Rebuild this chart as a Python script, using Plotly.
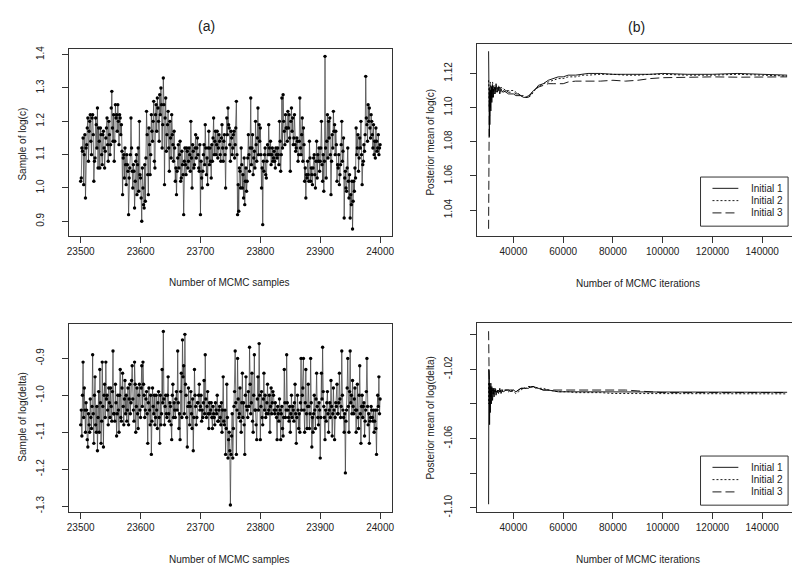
import plotly.graph_objects as go

# ---------------- data ----------------
# (a) trace of MCMC samples 23500..24000
sample_start, sample_end = 23500, 24000

# values at even offsets (23500, 23502, ..., 24000)
logc_even = [
    1.02, 1.12, 1.15, 1.10, 0.97, 1.13, 1.21, 1.17, 1.22, 1.10,
    1.22, 1.02, 1.09, 1.19, 1.24, 1.18, 1.06, 1.16, 1.07, 1.17,
    1.06, 1.15, 1.21, 1.08, 1.16, 1.13, 1.29, 1.14, 1.08, 1.25,
    1.22, 1.25, 1.13, 1.21, 1.19, 0.98, 1.10, 1.12, 1.01, 1.07,
    0.92, 1.06, 1.21, 1.05, 1.07, 0.94, 1.08, 0.98, 1.12, 1.20,
    1.03, 0.90, 1.00, 0.94, 0.96, 1.23, 1.04, 1.18, 1.04, 1.22,
    1.14, 1.26, 1.06, 1.25, 1.27, 1.20, 1.28, 1.30, 1.12, 1.33,
    1.01, 1.27, 1.16, 1.23, 1.05, 1.15, 1.22, 1.13, 1.17, 1.02,
    0.98, 1.09, 1.06, 1.14, 1.03, 1.07, 0.92, 1.12, 1.04, 1.11,
    1.08, 1.10, 1.20, 1.00, 1.11, 1.07, 1.16, 1.12, 1.10, 1.05,
    0.92, 1.03, 1.05, 1.13, 1.19, 1.04, 1.01, 1.17, 1.12, 1.03,
    1.08, 1.21, 1.14, 1.10, 1.17, 1.12, 1.14, 1.08, 1.19, 1.08,
    1.16, 1.00, 1.21, 1.24, 1.18, 1.08, 1.15, 1.12, 1.17, 1.13,
    1.26, 0.92, 0.93, 1.05, 1.12, 1.00, 0.97, 0.95, 1.06, 1.02,
    1.16, 1.05, 1.27, 1.12, 1.04, 1.11, 1.20, 1.08, 1.24, 1.19,
    1.18, 1.00, 0.89, 1.05, 1.12, 1.03, 1.13, 1.19, 1.10, 1.07,
    1.12, 1.09, 1.08, 1.12, 1.09, 1.10, 1.20, 1.05, 1.27, 1.28,
    1.17, 1.22, 1.18, 1.23, 1.22, 1.05, 1.24, 1.21, 1.15, 1.13,
    1.12, 1.14, 1.10, 1.27, 1.10, 1.21, 1.18, 1.02, 0.97, 1.03,
    1.04, 1.14, 1.02, 1.04, 1.06, 1.10, 1.00, 1.14, 1.10, 1.12,
    1.08, 1.20, 1.02, 0.99, 1.395, 1.03, 1.22, 1.20, 1.21, 0.98,
    1.16, 1.23, 1.19, 1.17, 1.02, 1.06, 1.01, 1.07, 1.20, 1.11,
    0.91, 1.05, 0.99, 1.12, 0.97, 0.91, 0.95, 0.877, 1.02, 1.06,
    1.18, 1.12, 1.05, 1.15, 1.20, 1.01, 1.08, 1.11, 1.335, 1.19,
    1.25, 1.24, 1.15, 1.20, 1.12, 1.10, 1.09, 1.14, 1.12, 1.10, 1.13,
]
# values at odd offsets (23501, 23503, ..., 23999)
logc_odd = [
    1.03, 1.11, 1.01, 1.16, 1.12, 1.18, 1.08, 1.20, 1.14, 1.21,
    1.16, 1.08, 1.21, 1.12, 1.06, 1.14, 1.18, 1.10, 1.16, 1.12,
    1.11, 1.18, 1.13, 1.20, 1.10, 1.24, 1.18, 1.22, 1.14, 1.21,
    1.17, 1.20, 1.22, 1.16, 1.11, 1.09, 1.03, 1.07, 1.10, 1.05,
    1.03, 1.10, 1.12, 1.00, 1.05, 1.02, 1.10, 1.07, 0.99, 1.04,
    0.97, 1.06, 0.95, 1.07, 1.09, 1.16, 0.98, 1.13, 1.10, 1.17,
    1.20, 1.08, 1.22, 1.17, 1.24, 1.14, 1.22, 1.25, 1.19, 1.25,
    1.21, 1.11, 1.19, 1.12, 1.20, 1.09, 1.16, 1.08, 1.12, 1.06,
    1.05, 1.13, 1.10, 1.02, 1.11, 1.04, 1.08, 1.07, 1.12, 1.06,
    1.12, 1.05, 1.09, 1.13, 1.06, 1.12, 1.09, 1.15, 1.06, 1.13,
    1.08, 1.00, 1.10, 1.07, 1.12, 1.09, 1.12, 1.07, 1.08, 1.13,
    1.15, 1.10, 1.17, 1.13, 1.09, 1.16, 1.10, 1.15, 1.12, 1.14,
    1.10, 1.12, 1.16, 1.19, 1.13, 1.17, 1.10, 1.16, 1.09, 1.18,
    1.10, 1.01, 1.06, 1.00, 1.07, 1.04, 1.09, 1.02, 0.99, 1.09,
    1.10, 1.12, 1.07, 1.16, 1.09, 1.06, 1.13, 1.15, 1.10, 1.14,
    1.10, 1.06, 1.08, 1.10, 1.04, 1.08, 1.10, 1.12, 1.14, 1.10,
    1.08, 1.11, 1.06, 1.10, 1.12, 1.07, 1.14, 1.10, 1.12, 1.20,
    1.13, 1.18, 1.14, 1.18, 1.15, 1.20, 1.17, 1.13, 1.22, 1.11,
    1.15, 1.08, 1.14, 1.12, 1.16, 1.08, 1.13, 1.06, 1.04, 1.08,
    1.02, 1.09, 1.06, 1.01, 1.09, 1.04, 1.08, 1.03, 1.08, 1.05,
    1.12, 1.07, 1.10, 1.08, 1.12, 1.14, 1.09, 1.15, 1.10, 1.08,
    1.12, 1.17, 1.10, 1.13, 1.07, 1.10, 1.04, 1.13, 1.08, 1.15,
    1.03, 1.00, 1.06, 1.02, 1.04, 0.98, 1.02, 0.96, 0.99, 1.03,
    1.10, 1.16, 1.09, 1.12, 1.10, 1.07, 1.13, 1.16, 1.21, 1.14,
    1.20, 1.18, 1.22, 1.16, 1.19, 1.14, 1.18, 1.11, 1.16, 1.12,
]

logdelta_even = [
    -1.08, -1.11, -0.91, -0.98, -1.10, -1.04, -1.14, -1.08, -1.01, -1.09,
    -0.89, -1.13, -0.95, -1.10, -1.15, -0.99, -0.93, -1.13, -0.91, -1.14,
    -0.97, -0.91, -1.00, -1.08, -1.02, -0.98, -1.07, -0.88, -1.05, -0.97,
    -1.11, -1.00, -1.10, -0.93, -1.07, -0.94, -1.08, -0.96, -1.00, -1.04,
    -1.08, -0.97, -1.02, -0.92, -1.04, -0.91, -1.10, -0.98, -1.09, -0.97,
    -1.06, -0.92, -0.91, -1.00, -1.04, -0.99, -1.13, -0.98, -1.08, -1.16,
    -0.98, -1.05, -1.08, -1.00, -1.09, -0.99, -1.13, -1.08, -0.93, -0.827,
    -1.08, -1.00, -1.06, -0.95, -1.07, -1.03, -1.12, -0.97, -1.02, -1.06,
    -0.99, -0.88, -1.09, -1.12, -0.94, -0.85, -0.92, -0.835, -1.00, -1.14,
    -0.98, -1.08, -0.99, -1.09, -1.15, -0.93, -1.03, -1.06, -1.02, -0.97,
    -1.03, -1.07, -1.06, -0.96, -0.89, -1.06, -0.99, -1.09, -1.05, -1.02,
    -1.09, -1.05, -1.08, -1.04, -1.00, -1.07, -1.03, -1.08, -1.10, -0.95,
    -1.08, -1.16, -0.97, -1.17, -1.10, -1.297, -1.11, -1.17, -1.03, -0.88,
    -1.16, -0.90, -1.06, -0.98, -1.10, -0.94, -1.02, -1.16, -0.95, -1.04,
    -0.99, -0.87, -1.05, -0.94, -1.10, -0.89, -1.04, -1.12, -0.95, -0.86,
    -1.12, -0.99, -1.08, -0.94, -1.00, -1.05, -0.97, -1.04, -1.10, -0.98,
    -1.02, -1.00, -1.05, -1.04, -1.12, -1.05, -1.01, -1.12, -1.03, -1.11,
    -0.93, -1.06, -0.89, -1.04, -1.07, -1.10, -1.00, -1.03, -1.07, -0.97,
    -1.13, -1.00, -1.09, -1.10, -0.90, -1.00, -0.90, -1.10, -0.93, -1.09,
    -0.97, -1.09, -0.90, -1.14, -1.10, -1.00, -1.09, -0.94, -1.06, -1.02,
    -1.17, -0.94, -0.87, -1.03, -1.12, -1.07, -0.99, -1.10, -1.02, -0.96,
    -1.11, -0.98, -1.12, -1.02, -0.97, -1.05, -0.94, -1.06, -0.88, -1.04,
    -1.10, -1.21, -1.04, -0.90, -1.10, -0.88, -1.00, -0.96, -1.05, -0.98,
    -1.10, -0.97, -1.09, -0.92, -1.13, -1.00, -1.03, -1.11, -1.04, -0.90,
    -1.08, -1.13, -1.06, -1.04, -1.07, -1.10, -1.04, -1.16, -1.00, -0.95, -1.01,
]
logdelta_odd = [
    -1.04, -1.00, -1.06, -1.04, -1.02, -1.12, -1.05, -1.10, -1.06, -1.03,
    -1.05, -1.00, -1.08, -1.03, -1.06, -1.10, -1.02, -1.07, -1.03, -1.00,
    -1.06, -1.01, -1.04, -0.98, -1.06, -1.03, -0.99, -1.05, -1.07, -1.02,
    -1.05, -1.04, -1.00, -1.06, -0.98, -1.03, -1.01, -1.05, -1.07, -0.98,
    -1.01, -1.05, -0.96, -1.01, -1.07, -0.97, -1.03, -1.05, -1.00, -1.04,
    -0.98, -1.03, -0.97, -1.06, -1.01, -1.05, -1.02, -1.04, -1.00, -1.07,
    -1.03, -1.00, -1.06, -1.04, -1.02, -1.06, -1.00, -1.05, -1.02, -1.01,
    -1.03, -1.05, -1.00, -1.05, -1.02, -1.08, -1.00, -1.06, -1.04, -1.01,
    -1.04, -1.02, -1.05, -0.99, -1.06, -0.95, -1.05, -0.97, -1.06, -1.03,
    -1.02, -1.03, -1.05, -1.01, -1.06, -1.00, -1.08, -1.02, -1.00, -1.04,
    -1.00, -1.04, -1.02, -1.05, -1.01, -1.03, -1.05, -1.02, -1.04, -1.06,
    -1.03, -1.06, -1.02, -1.05, -1.07, -1.04, -1.06, -1.02, -1.04, -1.07,
    -1.04, -1.09, -1.06, -1.12, -1.15, -1.16, -1.05, -1.09, -0.99, -1.02,
    -1.04, -1.01, -1.05, -1.07, -1.02, -1.06, -1.08, -1.00, -1.03, -1.06,
    -1.03, -0.97, -1.02, -1.07, -1.00, -1.04, -1.08, -1.01, -1.04, -1.00,
    -1.03, -1.06, -1.01, -1.04, -1.06, -1.02, -1.05, -1.00, -1.03, -1.05,
    -0.99, -1.04, -1.02, -1.06, -1.03, -1.07, -1.04, -1.05, -1.09, -1.06,
    -1.02, -1.04, -1.02, -1.06, -1.03, -1.05, -1.06, -1.04, -1.02, -1.05,
    -1.06, -1.04, -1.05, -1.02, -1.04, -0.98, -1.04, -1.02, -1.05, -1.03,
    -1.03, -1.05, -1.02, -1.06, -1.05, -1.04, -1.01, -1.03, -1.08, -1.04,
    -1.06, -1.01, -0.99, -1.06, -1.04, -1.02, -1.05, -1.04, -1.06, -1.03,
    -1.05, -1.04, -1.06, -1.03, -1.05, -1.02, -1.01, -1.03, -1.00, -1.06,
    -1.05, -1.07, -0.98, -1.03, -0.99, -1.02, -1.05, -1.03, -1.01, -1.04,
    -1.04, -1.06, -1.00, -1.05, -1.03, -1.06, -1.02, -1.07, -0.99, -1.03,
    -1.05, -1.07, -1.03, -1.06, -1.04, -1.07, -1.09, -1.04, -1.03, -1.05,
]

# (b) running posterior means for three initial values
iterations = [
    30000, 30100, 30200, 30300, 30400, 30500, 30700, 30900, 31100, 31300,
    31600, 31900, 32200, 32600, 33000, 33500, 34000, 34500, 35000, 35500,
    36000, 37000, 38000, 39000, 40000, 41000, 42000, 43000, 44000, 45000,
    46000, 47000, 48000, 49000, 50000, 52000, 54000, 56000, 58000, 60000,
    62000, 65000, 68000, 70000, 75000, 80000, 85000, 90000, 95000, 100000,
    110000, 120000, 130000, 140000, 150000,
]

mean_logc_init1 = [
    1.133, 1.095, 1.112, 1.083, 1.105, 1.090, 1.110, 1.098, 1.112, 1.103,
    1.113, 1.106, 1.112, 1.108, 1.114, 1.109, 1.112, 1.108, 1.111, 1.109,
    1.110, 1.109, 1.108, 1.108, 1.108, 1.107, 1.107, 1.107, 1.106, 1.106,
    1.107, 1.108, 1.110, 1.111, 1.113, 1.114, 1.116, 1.117, 1.118, 1.118,
    1.119, 1.119, 1.1195, 1.120, 1.120, 1.1195, 1.1195, 1.1195, 1.1195, 1.120,
    1.1195, 1.1195, 1.120, 1.1195, 1.119,
]
mean_logc_init2 = [
    1.116, 1.105, 1.114, 1.100, 1.112, 1.104, 1.115, 1.106, 1.113, 1.108,
    1.115, 1.110, 1.113, 1.110, 1.112, 1.110, 1.113, 1.110, 1.112, 1.111,
    1.111, 1.110, 1.110, 1.110, 1.110, 1.109, 1.108, 1.107, 1.107, 1.106,
    1.106, 1.107, 1.109, 1.111, 1.112, 1.114, 1.115, 1.116, 1.117, 1.117,
    1.118, 1.118, 1.119, 1.119, 1.1195, 1.1195, 1.119, 1.119, 1.1195, 1.1195,
    1.119, 1.119, 1.1195, 1.119, 1.1185,
]
mean_logc_init3 = [
    1.029, 1.098, 1.088, 1.108, 1.095, 1.110, 1.100, 1.111, 1.104, 1.112,
    1.106, 1.111, 1.108, 1.112, 1.109, 1.112, 1.110, 1.112, 1.110, 1.110,
    1.109, 1.110, 1.109, 1.109, 1.109, 1.108, 1.108, 1.107, 1.106, 1.106,
    1.106, 1.108, 1.110, 1.111, 1.112, 1.113, 1.114, 1.114, 1.114, 1.114,
    1.115, 1.1155, 1.1155, 1.1155, 1.1155, 1.116, 1.1155, 1.116, 1.117, 1.1175,
    1.1178, 1.118, 1.1178, 1.1178, 1.118,
]

mean_logdelta_init1 = [
    -1.098, -1.020, -1.045, -1.025, -1.052, -1.030, -1.045, -1.028, -1.040, -1.030,
    -1.038, -1.031, -1.036, -1.031, -1.035, -1.032, -1.034, -1.031, -1.034, -1.032,
    -1.033, -1.032, -1.032, -1.032, -1.032, -1.033, -1.032, -1.031, -1.031, -1.031,
    -1.031, -1.030, -1.030, -1.0305, -1.031, -1.032, -1.032, -1.0325, -1.033, -1.033,
    -1.033, -1.033, -1.0333, -1.0333, -1.0333, -1.0333, -1.0333, -1.0333, -1.0333, -1.0333,
    -1.0333, -1.0333, -1.0333, -1.0333, -1.0333,
]
mean_logdelta_init2 = [
    -1.028, -1.040, -1.030, -1.036, -1.031, -1.035, -1.033, -1.036, -1.031, -1.034,
    -1.032, -1.035, -1.031, -1.033, -1.032, -1.034, -1.032, -1.033, -1.032, -1.033,
    -1.032, -1.032, -1.033, -1.032, -1.033, -1.034, -1.033, -1.032, -1.031, -1.031,
    -1.030, -1.030, -1.030, -1.0305, -1.031, -1.031, -1.032, -1.0325, -1.033, -1.033,
    -1.033, -1.0335, -1.0335, -1.0335, -1.0335, -1.034, -1.034, -1.034, -1.0342, -1.0342,
    -1.0342, -1.0342, -1.0342, -1.0342, -1.0342,
]
mean_logdelta_init3 = [
    -0.998, -1.030, -1.022, -1.034, -1.028, -1.033, -1.030, -1.036, -1.032, -1.034,
    -1.031, -1.034, -1.032, -1.033, -1.031, -1.033, -1.032, -1.033, -1.032, -1.032,
    -1.031, -1.032, -1.032, -1.033, -1.032, -1.033, -1.032, -1.031, -1.031, -1.030,
    -1.030, -1.0305, -1.030, -1.031, -1.031, -1.032, -1.032, -1.032, -1.032, -1.032,
    -1.032, -1.032, -1.032, -1.032, -1.032, -1.032, -1.032, -1.0325, -1.033, -1.0335,
    -1.0335, -1.0335, -1.0335, -1.0335, -1.0335,
]

series_names = ["Initial 1", "Initial 2", "Initial 3"]

sample_ticks = [23500, 23600, 23700, 23800, 23900, 24000]
iter_ticks = [40000, 60000, 80000, 100000, 120000, 140000]
logc_ticks = [0.9, 1.0, 1.1, 1.2, 1.3, 1.4]
logdelta_ticks = [-1.3, -1.2, -1.1, -1.0, -0.9]
mean_logc_ticks = [1.04, 1.06, 1.08, 1.10, 1.12]
mean_logdelta_ticks = [-1.10, -1.08, -1.06, -1.04, -1.02, -1.00]
mean_logdelta_labels = ["-1.10", "", "-1.06", "", "-1.02", ""]

# ---------------- figure ----------------
W, H = 800, 568
FONT = "Liberation Sans, Arial, Helvetica, sans-serif"
INK = "#222"


def interleave(even, odd):
    out = []
    for a, b in zip(even, odd):
        out += [a, b]
    out += even[len(odd):]
    return out


logc_samples = interleave(logc_even, logc_odd)
logdelta_samples = interleave(logdelta_even, logdelta_odd)
samples = list(range(sample_start, sample_end + 1))

fig = go.Figure()

for vals, ax in [(logc_samples, ("x", "y")), (logdelta_samples, ("x3", "y3"))]:
    fig.add_trace(go.Scatter(
        x=samples[:len(vals)], y=vals, mode="lines+markers",
        line=dict(color="#3a3a3a", width=0.7),
        marker=dict(color="black", size=3.4),
        xaxis=ax[0], yaxis=ax[1], showlegend=False, hoverinfo="x+y"))

dashes = ["solid", "2px,2px", "9px,4px"]
for series, ax in [
    ([mean_logc_init1, mean_logc_init2, mean_logc_init3], ("x2", "y2")),
    ([mean_logdelta_init1, mean_logdelta_init2, mean_logdelta_init3], ("x4", "y4")),
]:
    for name, vals, dash in zip(series_names, series, dashes):
        fig.add_trace(go.Scatter(
            x=iterations, y=vals, mode="lines", name=name,
            line=dict(color="black", width=0.9, dash=dash),
            xaxis=ax[0], yaxis=ax[1], showlegend=False))


def px_dom_x(a, b):
    return [a / W, b / W]


def px_dom_y(top, bottom):
    return [1 - bottom / H, 1 - top / H]


axis_common = dict(
    showline=True, mirror=True, linecolor="#333", linewidth=1,
    ticks="outside", ticklen=6, tickwidth=1, tickcolor="#333",
    showgrid=False, zeroline=False,
    tickfont=dict(family=FONT, size=10, color=INK),
)

xa = dict(axis_common, tickmode="array")
ya = dict(axis_common, tickmode="array", tickangle=-90, ticklabelstandoff=14)

fig.update_layout(
    width=W, height=H,
    margin=dict(l=0, r=0, t=0, b=0),
    paper_bgcolor="white", plot_bgcolor="white",
    font=dict(family=FONT, size=10, color=INK),
    showlegend=False,
    xaxis=dict(xa, domain=px_dom_x(59, 384), anchor="y", range=[23480, 24020],
               tickvals=sample_ticks, ticktext=[str(v) for v in sample_ticks]),
    yaxis=dict(ya, domain=px_dom_y(38, 228), anchor="x", range=[0.856, 1.416],
               tickvals=logc_ticks, ticktext=[f"{v:.1f}" for v in logc_ticks]),
    xaxis2=dict(xa, domain=px_dom_x(469, 793), anchor="y2", range=[25200, 154800],
                tickvals=iter_ticks, ticktext=[str(v) for v in iter_ticks]),
    yaxis2=dict(ya, domain=px_dom_y(33, 228), anchor="x2", range=[1.0248, 1.137],
                tickvals=mean_logc_ticks, ticktext=[f"{v:.2f}" for v in mean_logc_ticks]),
    xaxis3=dict(xa, domain=px_dom_x(59, 384), anchor="y3", range=[23480, 24020],
                tickvals=sample_ticks, ticktext=[str(v) for v in sample_ticks]),
    yaxis3=dict(ya, domain=px_dom_y(318, 509), anchor="x3", range=[-1.316, -0.808],
                tickvals=logdelta_ticks, ticktext=[f"{v:.1f}" for v in logdelta_ticks]),
    xaxis4=dict(xa, domain=px_dom_x(469, 793), anchor="y4", range=[25200, 154800],
                tickvals=iter_ticks, ticktext=[str(v) for v in iter_ticks]),
    yaxis4=dict(ya, domain=px_dom_y(317, 509), anchor="x4", range=[-1.1025, -0.9935],
                tickvals=mean_logdelta_ticks, ticktext=mean_logdelta_labels),
)

ann = []
shapes = []


def add_text(text, x, y, size=10, angle=0, anchor="center"):
    ann.append(dict(text=text, x=x / W, y=1 - y / H, xref="paper", yref="paper",
                    showarrow=False, textangle=angle, xanchor=anchor, yanchor="middle",
                    font=dict(family=FONT, size=size, color=INK)))


add_text("(a)", 197, 14, size=14)
add_text("(b)", 630, 15, size=14)
add_text("Number of MCMC samples", 221, 275)
add_text("Number of MCMC iterations", 631, 276)
add_text("Number of MCMC samples", 221, 557)
add_text("Number of MCMC iterations", 631, 557)
add_text("Sample of log(c)", 13, 134, angle=-90)
add_text("Posterior mean of log(c)", 423, 132, angle=-90)
add_text("Sample of log(delta)", 13, 412, angle=-90)
add_text("Posterior mean of log(delta)", 423, 413, angle=-90)

# legend boxes drawn in the R style (one per right-hand panel)
for box_top in (168, 452):
    shapes.append(dict(type="rect", xref="paper", yref="paper",
                       x0=694 / W, x1=782 / W, y0=1 - (box_top + 50) / H, y1=1 - box_top / H,
                       line=dict(color="#333", width=1), fillcolor="white", layer="above"))
    for k, (name, dash) in enumerate(zip(series_names, dashes)):
        yy = box_top + 11.5 + 12.5 * k
        shapes.append(dict(type="line", xref="paper", yref="paper",
                           x0=706 / W, x1=732 / W, y0=1 - yy / H, y1=1 - yy / H,
                           line=dict(color="black", width=0.9, dash=dash), layer="above"))
        add_text(name, 743, yy, anchor="left")

fig.update_layout(annotations=ann, shapes=shapes)

fig.write_html("out.html")
